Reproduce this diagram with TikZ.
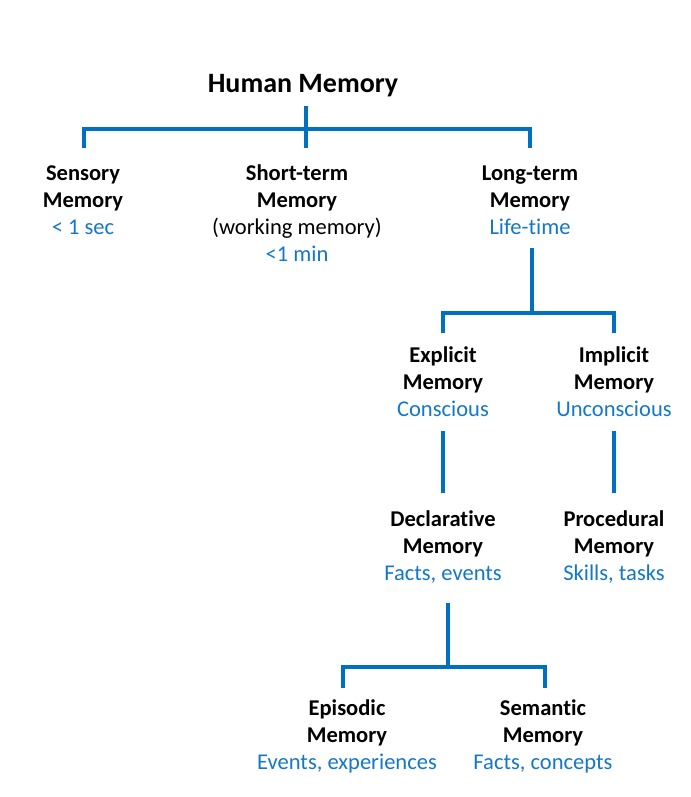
\documentclass[tikz,border=0pt]{standalone}
\usepackage{fontspec}
\setmainfont[Ligatures={NoCommon,NoRare,NoDiscretionary}]{Carlito}
\definecolor{mblue}{RGB}{0,112,192}
\definecolor{tblue}{RGB}{20,120,200}
\newcommand\nm[1]{\textbf{#1}}
\newcommand\ds[1]{\textcolor{tblue}{#1}}
\tikzset{
  memnode/.style={align=center, inner sep=0pt, font=\fontsize{16.9}{20.3}\selectfont},
  titlenode/.style={inner sep=0pt, font=\fontsize{21}{25}\selectfont\bfseries},
  conn/.style={draw=mblue, line width=2.5pt}
}
\begin{document}
\begin{tikzpicture}[x=0.75pt,y=-0.75pt]
\useasboundingbox[fill=white] (0,0) rectangle (690,797);
% nodes
\node[titlenode] (hm) at (303,86) {Human Memory};
\node[memnode] (sen) at (83,200) {\nm{Sensory}\\\nm{Memory}\\\ds{< 1 sec}};
\node[memnode] (stm) at (297,213) {\nm{Short-term}\\\nm{Memory}\\(working memory)\\\ds{<1 min}};
\node[memnode] (ltm) at (530,200) {\nm{Long-term}\\\nm{Memory}\\\ds{Life-time}};
\node[memnode] (exp) at (443,382) {\nm{Explicit}\\\nm{Memory}\\\ds{Conscious}};
\node[memnode] (imp) at (614,382) {\nm{Implicit}\\\nm{Memory}\\\ds{Unconscious}};
\node[memnode] (dec) at (443,547) {\nm{Declarative}\\\nm{Memory}\\\ds{Facts, events}};
\node[memnode] (pro) at (614,547) {\nm{Procedural}\\\nm{Memory}\\\ds{Skills, tasks}};
\node[memnode] (epi) at (347,736) {\nm{Episodic}\\\nm{Memory}\\\ds{Events, experiences}};
\node[memnode] (sem) at (543,736) {\nm{Semantic}\\\nm{Memory}\\\ds{Facts, concepts}};
% connector points
\coordinate (hmB) at (306,106);
\coordinate (barA) at (306,129);
\coordinate (senT) at (84,148);
\coordinate (stmT) at (306,148);
\coordinate (ltmT) at (530,148);
\coordinate (ltmB) at (532,248);
\coordinate (barB) at (532,313);
\coordinate (expT) at (443,333);
\coordinate (impT) at (614,333);
\coordinate (expB) at (443,431);
\coordinate (impB) at (614,431);
\coordinate (decT) at (443,493);
\coordinate (proT) at (614,493);
\coordinate (decB) at (448,603);
\coordinate (barC) at (448,667);
\coordinate (epiT) at (343,688);
\coordinate (semT) at (545,688);
% connectors
\draw[conn] (hmB) -- (stmT);
\draw[conn] (senT) -- (senT |- barA) -- (ltmT |- barA) -- (ltmT);
\draw[conn] (ltmB) -- (barB);
\draw[conn] (expT) -- (expT |- barB) -- (impT |- barB) -- (impT);
\draw[conn] (expB) -- (decT);
\draw[conn] (impB) -- (proT);
\draw[conn] (decB) -- (barC);
\draw[conn] (epiT) -- (epiT |- barC) -- (semT |- barC) -- (semT);
\end{tikzpicture}
\end{document}
